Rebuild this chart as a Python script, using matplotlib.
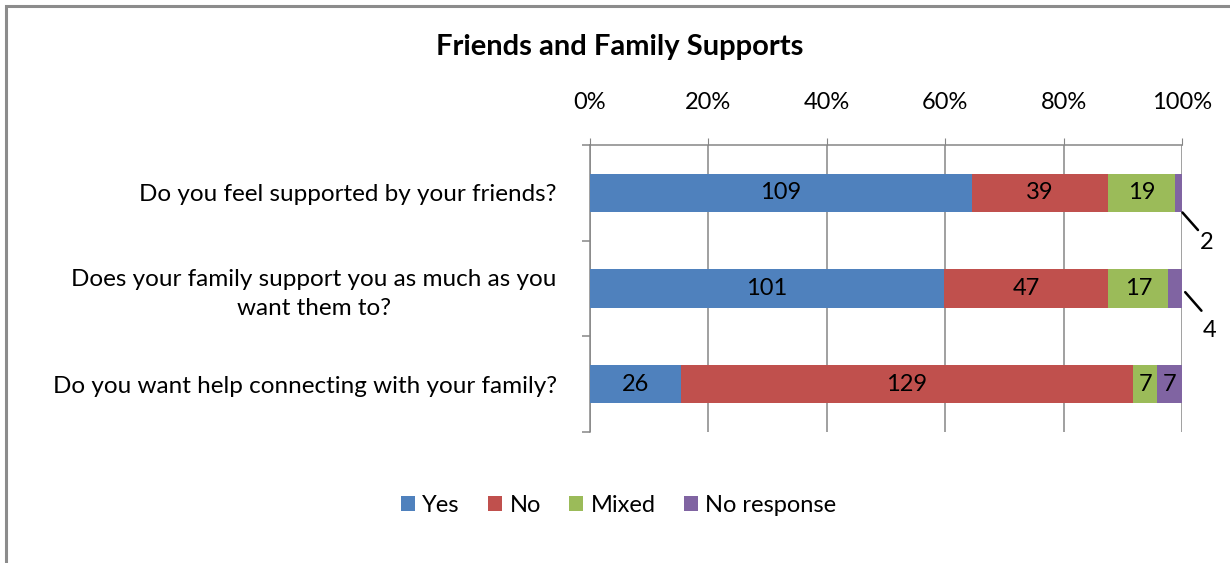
import matplotlib
matplotlib.use('Agg')
import matplotlib.pyplot as plt
import matplotlib.patches as patches
from matplotlib.ticker import FuncFormatter

plt.rcParams['font.family'] = ['Lato', 'DejaVu Sans']

questions = ['Do you feel supported by your friends?',
             'Does your family support you as much as you\nwant them to?',
             'Do you want help connecting with your family?']
series = ['Yes', 'No', 'Mixed', 'No response']
yes = [109, 101, 26]
no = [39, 47, 129]
mixed = [19, 17, 7]
no_resp = [2, 4, 7]
colors = ['#4F81BD', '#C0504D', '#9BBB59', '#8064A2']

fig = plt.figure(figsize=(12.3, 5.63), dpi=100)
ax = fig.add_axes([590 / 1230, 1 - 432 / 563, 592 / 1230, 287 / 563])

values = [yes, no, mixed, no_resp]
totals = [sum(v[i] for v in values) for i in range(len(questions))]
left = [0.0] * len(questions)
for s, (name, vals, c) in enumerate(zip(series, values, colors)):
    widths = [v / t for v, t in zip(vals, totals)]
    ax.barh(range(len(questions)), widths, left=left, height=0.4, color=c,
            label=name, zorder=3)
    for i, (v, w) in enumerate(zip(vals, widths)):
        if w > 0.03:
            ax.text(left[i] + w / 2, i, str(v), ha='center', va='center',
                    fontsize=17, color='black', zorder=4)
        else:
            # small slices get an outside label with a leader line
            corner = (left[i] + w, i + 0.2 - 0.2 * i)
            ax.annotate('', xy=corner, xytext=(11.5 + 2.5 * i, -13 - 3 * i),
                        textcoords='offset points',
                        arrowprops=dict(arrowstyle='-', color='black', lw=1.8,
                                        shrinkA=0, shrinkB=0.5 + 3 * i))
            ax.annotate(str(v), xy=corner, xytext=(18 + 2 * i, -22 - 8 * i),
                        textcoords='offset points', ha='center', va='center',
                        fontsize=17)
    left = [l + w for l, w in zip(left, widths)]

ax.set_xlim(0, 1)
ax.set_ylim(2.5, -0.5)
ax.xaxis.tick_top()
ax.set_xticks([0, 0.2, 0.4, 0.6, 0.8, 1.0])
ax.xaxis.set_major_formatter(FuncFormatter(lambda x, p: '%d%%' % round(x * 100)))
ax.tick_params(axis='x', length=5, color='#868686', pad=18, labelsize=17)
ax.grid(axis='x', color='#868686', lw=1.1, zorder=0)

ax.set_yticks(range(len(questions)))
ax.set_yticklabels(questions, fontsize=17.5, ha='right', multialignment='center',
                   linespacing=1.45)
ax.tick_params(axis='y', length=0, pad=24)
ax.set_yticks([-0.5, 0.5, 1.5, 2.5], minor=True)
ax.tick_params(axis='y', which='minor', length=6, color='#868686', width=1.1)

for side in ['right', 'bottom']:
    ax.spines[side].set_visible(False)
for side in ['top', 'left']:
    ax.spines[side].set_color('#868686')
    ax.spines[side].set_linewidth(1.1)

fig.text(0.504, 1 - 47 / 563, 'Friends and Family Supports', ha='center',
         va='center', fontsize=21, fontweight='bold')

fig.legend(loc='center', bbox_to_anchor=(0.503, 1 - 505 / 563), ncol=4,
           frameon=False, fontsize=17, handlelength=0.6, handleheight=0.6,
           handletextpad=0.3, columnspacing=1.2)

border = patches.Rectangle((6 / 1230, -0.1), 1.2, 1.1 - 6 / 563 + 0.0,
                           transform=fig.transFigure, fill=False,
                           edgecolor='#8c8c8c', lw=2.2, clip_on=False)
fig.patches.append(border)

fig.savefig('out.png', dpi=100)
